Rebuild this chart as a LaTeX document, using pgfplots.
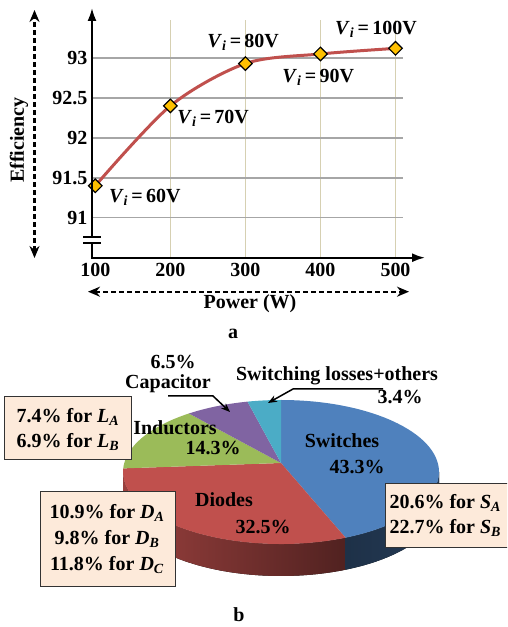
\documentclass[border=0pt]{standalone}
\usepackage{pgfplots}
\pgfplotsset{compat=1.18}
\usepackage{pgfplotstable}
\usepackage{fontspec}
\setmainfont{Liberation Serif}
\usetikzlibrary{arrows.meta,calc}

\definecolor{lineRed}{HTML}{C0504D}
\definecolor{mkYellow}{HTML}{FFC000}
\definecolor{gridGray}{HTML}{A6A6A6}
\definecolor{gridBeige}{HTML}{D6D0B2}
\definecolor{pBlue}{HTML}{4F81BD}
\definecolor{pRed}{HTML}{C0504D}
\definecolor{pGreen}{HTML}{9BBB59}
\definecolor{pPurple}{HTML}{8064A2}
\definecolor{pAqua}{HTML}{4BACC6}
\definecolor{boxFill}{HTML}{FDEADA}

\pgfplotstableread{
P Eff
100 91.40
200 92.40
300 92.93
400 93.05
500 93.12
}\effdata

\pgfplotstableread{
part pct
Switches 43.3
Diodes 32.5
Inductors 14.3
Capacitor 6.5
Others 3.4
}\piedata

\newcommand{\Vi}[1]{\textit{V}\textsubscript{\textit{i}}\,=\,#1V}
\newcommand{\fnt}{\bfseries\fontsize{20}{22}\selectfont}

\begin{document}
\begin{tikzpicture}[every node/.style={font=\fnt}]
\useasboundingbox (0pt,0pt) rectangle (507pt,627pt);
\clip (0pt,0pt) rectangle (507pt,627pt);

% ---- pie angles from the table ----
\pgfplotstablegetelem{0}{pct}\of\piedata \let\pS\pgfplotsretval
\pgfplotstablegetelem{1}{pct}\of\piedata \let\pD\pgfplotsretval
\pgfplotstablegetelem{2}{pct}\of\piedata \let\pI\pgfplotsretval
\pgfplotstablegetelem{3}{pct}\of\piedata \let\pC\pgfplotsretval
\pgfplotstablegetelem{4}{pct}\of\piedata \let\pO\pgfplotsretval
\pgfmathsetmacro{\aA}{90}
\pgfmathsetmacro{\aB}{\aA-3.6*\pS}
\pgfmathsetmacro{\aC}{\aB-3.6*\pD}
\pgfmathsetmacro{\aD}{\aC-3.6*\pI}
\pgfmathsetmacro{\aE}{\aD-3.6*\pC}
\pgfmathsetmacro{\aF}{\aE-3.6*\pO}

% ---- (a) line chart ----
\begin{axis}[
  at={(92pt,369.3pt)}, anchor=south west, scale only axis,
  width=311pt, height=237.7pt,
  xmin=95.6, xmax=510, ymin=90.5, ymax=93.475,
  axis line style={draw=none}, major tick length=0pt,
  xtick={200,300,400,500}, extra x ticks={100},
  extra x tick style={grid=none},
  ytick={91,91.5,92,92.5,93},
  xmajorgrids, ymajorgrids,
  x grid style={gridBeige, line width=1.5pt},
  y grid style={gridGray, line width=1.5pt},
  tick label style={font=\fnt},
  /pgf/number format/assume math mode=true,
  yticklabel style={xshift=-1pt},
  xticklabel style={yshift=-2pt},
  clip=false,
]
\addplot[lineRed, line width=3pt, smooth,
  mark=square*, mark size=4.8pt,
  mark options={rotate=45, fill=mkYellow, draw=black, line width=1.2pt, solid}]
  table[x=P, y=Eff]{\effdata};
\node at (axis cs:166,91.26) {\Vi{60}};
\node at (axis cs:257,92.24) {\Vi{70}};
\node at (axis cs:297,93.19) {\Vi{80}};
\node at (axis cs:397,92.76) {\Vi{90}};
\node at (axis cs:474,93.36) {\Vi{100}};
\end{axis}

% axis lines with arrows
\draw[line width=2pt, -{Latex[length=13pt,width=9pt]}] (92pt,368.3pt) -- (92pt,619pt);
\draw[line width=2pt, -{Latex[length=13pt,width=9pt]}] (91pt,369.3pt) -- (425pt,369.3pt);
% axis break
\fill[white] (84pt,384pt) rectangle (101pt,390pt);
\draw[line width=1.8pt] (83pt,390.3pt) -- (101pt,390.3pt);
\draw[line width=1.8pt] (83pt,383.7pt) -- (101pt,383.7pt);

% dashed double arrows
\draw[line width=2.2pt, dash pattern=on 5pt off 3pt,
  {Stealth[length=12pt,width=10pt]}-{Stealth[length=12pt,width=10pt]}]
  (34.5pt,369pt) -- (34.5pt,617pt);
\draw[line width=2.2pt, dash pattern=on 5pt off 3pt,
  {Stealth[length=12pt,width=10pt]}-{Stealth[length=12pt,width=10pt]}]
  (88pt,335.3pt) -- (409pt,335.3pt);
\node[rotate=90] at (19pt,487pt) {Efficiency};
\node at (250pt,323pt) {Power (W)};
\node at (233pt,293pt) {a};

% ---- (b) pie chart ----
\begin{axis}[
  at={(0pt,0pt)}, anchor=south west, scale only axis,
  width=507pt, height=300pt,
  xmin=0, xmax=507, ymin=0, ymax=300,
  hide axis, clip=false,
]
\coordinate (O) at (axis cs:281,155);
\coordinate (A) at (axis cs:281,164);
% sides
\fill[left color=pRed!80!black, right color=pRed!42!black]
  ($(O)+(-180:158pt and 72pt)$) arc[start angle=-180, end angle=\aB, x radius=158pt, y radius=72pt]
  -- ++(0,-32pt) arc[start angle=\aB, end angle=-180, x radius=158pt, y radius=72pt] -- cycle;
\fill[left color=pBlue!38!black, right color=pBlue!45!black]
  ($(O)+(\aB:158pt and 72pt)$) arc[start angle=\aB, end angle=0, x radius=158pt, y radius=72pt]
  -- ++(0,-32pt) arc[start angle=0, end angle=\aB, x radius=158pt, y radius=72pt] -- cycle;
% top faces
\fill[pBlue] (A) -- ($(O)+(\aA:158pt and 72pt)$) arc[start angle=\aA, end angle=\aB, x radius=158pt, y radius=72pt] -- cycle;
\fill[pRed] (A) -- ($(O)+(\aB:158pt and 72pt)$) arc[start angle=\aB, end angle=\aC, x radius=158pt, y radius=72pt] -- cycle;
\fill[pGreen] (A) -- ($(O)+(\aC:158pt and 72pt)$) arc[start angle=\aC, end angle=\aD, x radius=158pt, y radius=72pt] -- cycle;
\fill[pPurple] (A) -- ($(O)+(\aD:158pt and 72pt)$) arc[start angle=\aD, end angle=\aE, x radius=158pt, y radius=72pt] -- cycle;
\fill[pAqua] (A) -- ($(O)+(\aE:158pt and 72pt)$) arc[start angle=\aE, end angle=\aF, x radius=158pt, y radius=72pt] -- cycle;
\end{axis}

% pie labels
\node at (173pt,265pt) {6.5\%};
\node at (168pt,243pt) {Capacitor};
\node at (337pt,251pt) {Switching losses+others};
\node at (400pt,230pt) {3.4\%};
\node at (175pt,199pt) {Inductors};
\node at (213pt,179pt) {14.3\%};
\node at (342pt,186pt) {Switches};
\node at (357pt,160pt) {43.3\%};
\node at (224pt,127pt) {Diodes};
\node at (263pt,100pt) {32.5\%};
% arrows
\draw[line width=1.5pt, -{Stealth[length=9pt,width=7pt]}] (168pt,231pt) -- (213pt,231pt) -- (230pt,215pt);
\draw[line width=1.5pt, -{Stealth[length=9pt,width=7pt]}] (383pt,238pt) -- (293pt,238pt) -- (268pt,224pt);
% boxes
\draw[fill=boxFill, draw=black!80, line width=1pt] (4pt,167pt) rectangle (131pt,230pt);
\node at (68pt,210pt) {7.4\% for \textit{L}\textsubscript{\textit{A}}};
\node at (68pt,185pt) {6.9\% for \textit{L}\textsubscript{\textit{B}}};
\draw[fill=boxFill, draw=black!80, line width=1pt] (40pt,40pt) rectangle (175pt,135pt);
\node at (107pt,114pt) {10.9\% for \textit{D}\textsubscript{\textit{A}}};
\node at (107pt,88pt) {9.8\% for \textit{D}\textsubscript{\textit{B}}};
\node at (107pt,62pt) {11.8\% for \textit{D}\textsubscript{\textit{C}}};
\draw[fill=boxFill, draw=black!80, line width=1pt] (385pt,79pt) rectangle (515pt,143pt);
\node[anchor=west] at (386pt,124pt) {20.6\% for \textit{S}\textsubscript{\textit{A}}};
\node[anchor=west] at (386pt,99pt) {22.7\% for \textit{S}\textsubscript{\textit{B}}};
\node at (239pt,12pt) {b};
\end{tikzpicture}
\end{document}
